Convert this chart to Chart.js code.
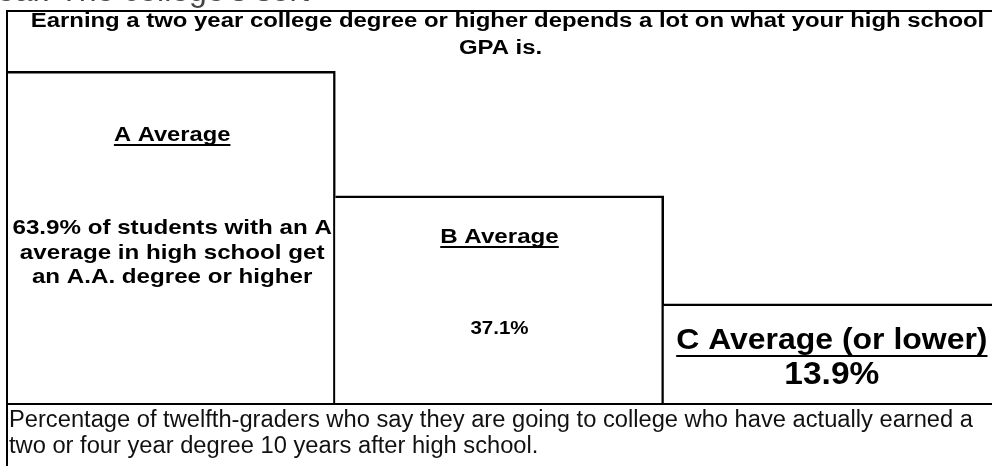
<!DOCTYPE html>
<html>
<head>
<meta charset="utf-8">
<script src="https://cdn.jsdelivr.net/npm/chart.js@4.4.1/dist/chart.umd.min.js"></script>
<style>
  html, body { margin: 0; padding: 0; background: #fff; }
  #wrap { width: 992px; height: 466px; position: relative; }
</style>
</head>
<body>
<div id="wrap"><canvas id="c"></canvas></div>
<script>
// ---- data ----
const categories = ['A Average', 'B Average', 'C Average (or lower)'];
const values = [63.9, 37.1, 13.9];
const titleLines = ['Earning a two year college degree or higher depends a lot on what your high school', 'GPA is.'];
const aDescriptionTail = ['% of students with an A', 'average in high school get', 'an A.A. degree or higher'];
const captionLines = [
  'Percentage of twelfth-graders who say they are going to college who have actually earned a',
  'two or four year degree 10 years after high school.'
];
const cutOffText = "ear. The college's sort";

// ---- scale / styles (not data) ----
const Y_MIN = -7.66;
const Y_MAX = 65.9;
const FONT = "'Liberation Sans', Arial, sans-serif";
const LINE = '#000';
const labelStyle = [
  { labelY: 135, labelSize: 21, labelSx: 1.13, detailYs: [228, 253, 277], detailSize: 21, detailSx: 1.15, dx: 1 },
  { labelY: 237, labelSize: 21, labelSx: 1.15, detailYs: [329], detailSize: 19, detailSx: 1.08, dx: 0 },
  { labelY: 341, labelSize: 30, labelSx: 1.065, detailYs: [375], detailSize: 31, detailSx: 1.08, dx: 4 }
];

function detailText(i) {
  if (i === 0) {
    return aDescriptionTail.map((t, k) => k === 0 ? values[0] + t : t);
  }
  return [values[i] + '%'];
}

function stretchText(ctx, text, x, y, sx) {
  ctx.save();
  ctx.translate(x, y);
  ctx.scale(sx, 1);
  ctx.fillText(text, 0, 0);
  ctx.restore();
  return ctx.measureText(text).width * sx;
}

function drawUnderlined(ctx, text, x, y, size, sx) {
  ctx.font = 'bold ' + size + 'px ' + FONT;
  ctx.textAlign = 'center';
  ctx.textBaseline = 'middle';
  const w = stretchText(ctx, text, x, y, sx);
  const uy = Math.round(y + size * 0.45);
  ctx.fillRect(x - w / 2, uy, w, Math.max(2, Math.round(size * 0.08)));
}

const decorPlugin = {
  id: 'decor',
  afterDatasetsDraw(chart) {
    const ctx = chart.ctx;
    const area = chart.chartArea;
    const W = chart.width, H = chart.height;
    ctx.save();
    // cut-off text at very top
    ctx.fillStyle = '#444';
    ctx.font = '32px ' + FONT;
    ctx.textAlign = 'left';
    ctx.textBaseline = 'alphabetic';
    ctx.fillText(cutOffText, -3, 1);

    // title
    ctx.fillStyle = '#000';
    ctx.font = 'bold 20px ' + FONT;
    ctx.textAlign = 'center';
    ctx.textBaseline = 'middle';
    const cx = (area.left + W) / 2 + 8;
    stretchText(ctx, titleLines[0], cx, 21, 1.195);
    stretchText(ctx, titleLines[1], cx - 7, 48, 1.195);

    // frame
    ctx.strokeStyle = LINE;
    ctx.lineWidth = 2;
    ctx.beginPath();
    ctx.moveTo(area.left - 1, 11); ctx.lineTo(W, 11);
    ctx.moveTo(area.left, 10); ctx.lineTo(area.left, H);
    ctx.moveTo(area.left - 1, Math.round(area.bottom)); ctx.lineTo(W, Math.round(area.bottom));
    ctx.stroke();

    // bar labels
    const meta = chart.getDatasetMeta(0);
    ctx.fillStyle = '#000';
    meta.data.forEach((el, i) => {
      const s = labelStyle[i];
      drawUnderlined(ctx, categories[i], el.x + s.dx, s.labelY, s.labelSize, s.labelSx);
      ctx.font = 'bold ' + s.detailSize + 'px ' + FONT;
      ctx.textAlign = 'center';
      ctx.textBaseline = 'middle';
      detailText(i).forEach((t, k) => stretchText(ctx, t, el.x + s.dx, s.detailYs[k], s.detailSx));
    });

    // caption
    ctx.fillStyle = '#111';
    ctx.font = '23px ' + FONT;
    ctx.textAlign = 'left';
    ctx.textBaseline = 'middle';
    captionLines.forEach((t, k) => stretchText(ctx, t, area.left + 2, area.bottom + 17 + k * 26, 1.03));
    ctx.restore();
  }
};

new Chart(document.getElementById('c'), {
  type: 'bar',
  data: {
    labels: categories,
    datasets: [{
      data: values,
      base: Y_MIN,
      backgroundColor: '#fff',
      borderColor: LINE,
      borderWidth: (c) => ({ top: 2.5, right: c.dataIndex === values.length - 1 ? 0 : 2.5, left: 0, bottom: 0 }),
      borderSkipped: false,
      barPercentage: 1,
      categoryPercentage: 1
    }]
  },
  options: {
    responsive: true,
    maintainAspectRatio: false,
    animation: false,
    layout: { padding: { left: 7, right: 0, top: 62, bottom: 62 } },
    plugins: {
      legend: { display: false },
      tooltip: { enabled: false },
      title: { display: false }
    },
    scales: {
      x: { display: false },
      y: { display: false, min: Y_MIN, max: Y_MAX }
    }
  },
  plugins: [decorPlugin]
});
</script>
</body>
</html>
